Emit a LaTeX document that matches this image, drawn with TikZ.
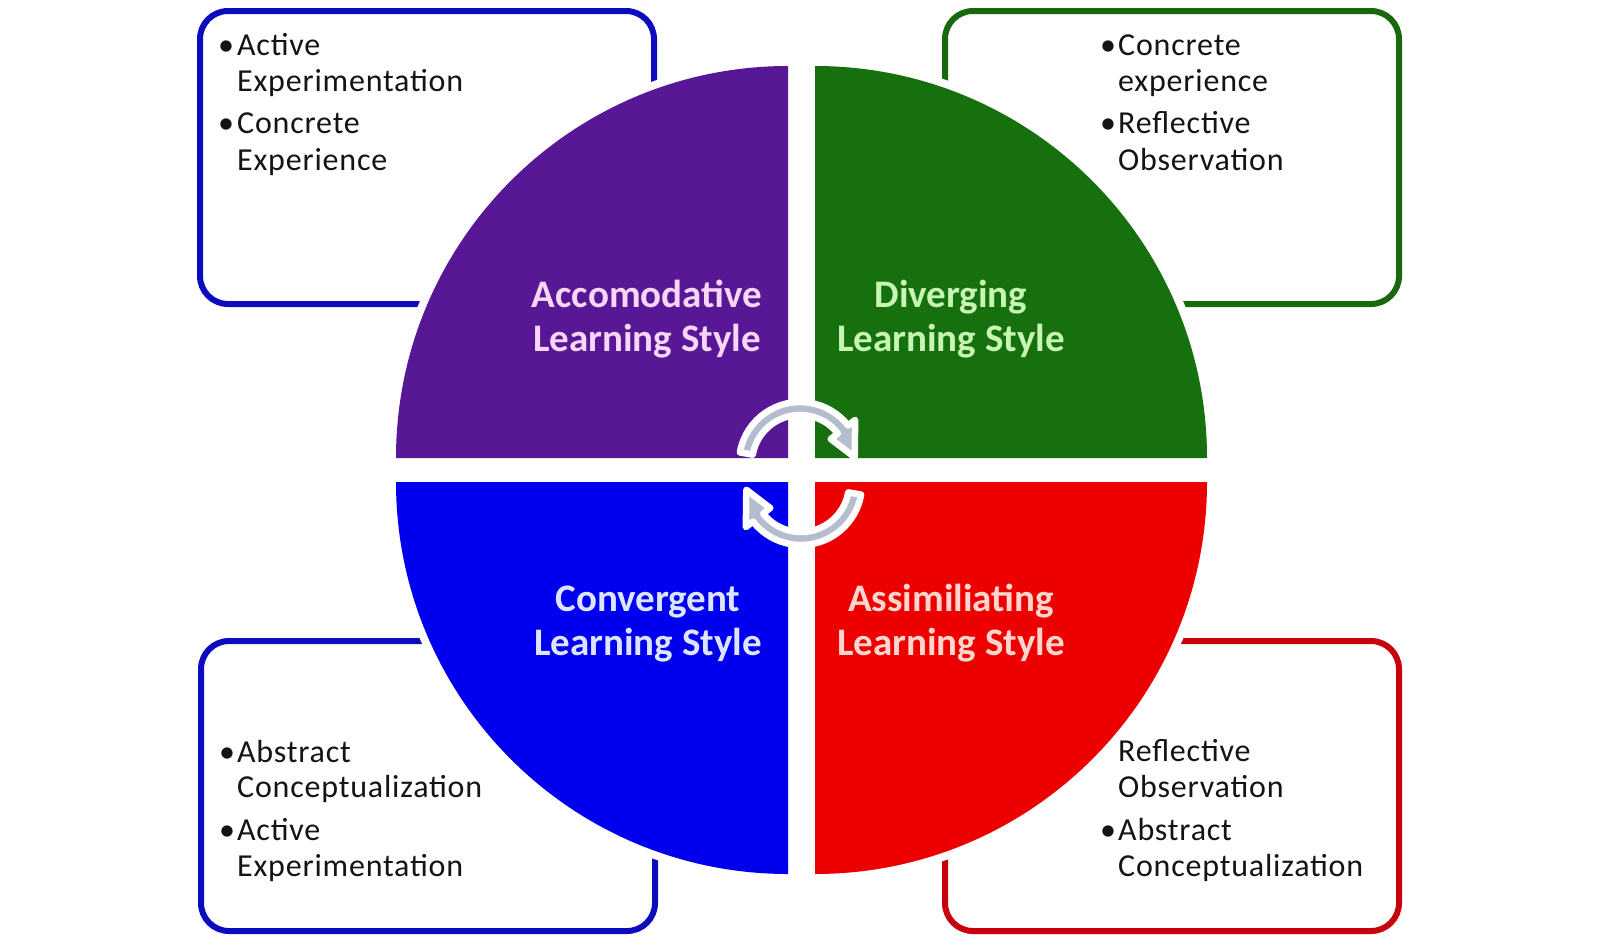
\documentclass[tikz,border=0pt]{standalone}
\usepackage{fontspec}
\setmainfont{Carlito}
\definecolor{cPurple}{RGB}{88,24,150}
\definecolor{cGreen}{RGB}{22,112,14}
\definecolor{cBlue}{RGB}{0,0,238}
\definecolor{cRed}{RGB}{236,0,0}
\definecolor{bBlue}{RGB}{12,12,190}
\definecolor{bGreen}{RGB}{24,104,14}
\definecolor{bRed}{RGB}{200,0,12}
\definecolor{tPurple}{RGB}{248,214,248}
\definecolor{tGreen}{RGB}{200,245,180}
\definecolor{tBlue}{RGB}{220,228,255}
\definecolor{tRed}{RGB}{255,214,206}
\definecolor{arrowgrey}{RGB}{180,188,206}
\definecolor{txt}{RGB}{20,20,20}
\begin{document}
\begin{tikzpicture}[x=1pt,y=-1pt,
  box/.style={line width=6pt, rounded corners=28pt},
  item/.style={anchor=base west, inner sep=0pt, font=\fontsize{32}{36}\selectfont\addfontfeature{LetterSpace=2.5}, text=txt},
  bul/.style={anchor=base, inner sep=0pt, font=\fontsize{32}{36}\selectfont, text=txt},
  title/.style={anchor=base, inner sep=0pt, font=\fontsize{39}{44}\bfseries\selectfont},
  arrowshape/.style={fill=arrowgrey, draw=white, line width=6.5pt, line join=round}]
\useasboundingbox (0,0) rectangle (1600,946);
\fill[white] (0,0) rectangle (1600,946);

% boxes
\draw[box, draw=bBlue]  (200,11)  rectangle (654,304);
\draw[box, draw=bGreen] (945,11)  rectangle (1399,304);
\draw[box, draw=bBlue]  (201,641) rectangle (655,931);
\draw[box, draw=bRed]   (945,641) rectangle (1399,931);

% white halos
\fill[white] (788,458) -- ++(180:400) arc[start angle=180,end angle=270,radius=400] -- cycle;
\fill[white] (815,458) -- ++(270:400) arc[start angle=270,end angle=360,radius=400] -- cycle;
\fill[white] (815,482) -- ++(0:400) arc[start angle=0,end angle=90,radius=400] -- cycle;
\fill[white] (788,482) -- ++(90:400) arc[start angle=90,end angle=180,radius=400] -- cycle;

% quarters
\fill[cPurple] (788,458) -- ++(180:392) arc[start angle=180,end angle=270,radius=392] -- cycle;
\fill[cGreen]  (815,458) -- ++(270:392) arc[start angle=270,end angle=360,radius=392] -- cycle;
\fill[cRed]    (815,482) -- ++(0:392) arc[start angle=0,end angle=90,radius=392] -- cycle;
\fill[cBlue]   (788,482) -- ++(90:392) arc[start angle=90,end angle=180,radius=392] -- cycle;

% titles
\node[title, text=tPurple] (acc1) at (647,307) {Accomodative};
\node[title, text=tPurple] (acc2) at (647,351) {Learning Style};
\node[title, text=tGreen]  (div1) at (951,307) {Diverging};
\node[title, text=tGreen]  (div2) at (951,351) {Learning Style};
\node[title, text=tBlue]   (con1) at (648,611) {Convergent};
\node[title, text=tBlue]   (con2) at (648,655) {Learning Style};
\node[title, text=tRed]    (ass1) at (951,611) {Assimiliating};
\node[title, text=tRed]    (ass2) at (951,655) {Learning Style};

% circular arrows
\begin{scope}[shift={(800,463)}]
\filldraw[arrowshape] (190:61) arc[start angle=190,end angle=322,radius=61]
  -- (322:70) -- (354:55) -- (322:39) -- (322:48)
  arc[start angle=322,end angle=190,radius=48] -- cycle;
\end{scope}
\begin{scope}[shift={(801,484)}]
\filldraw[arrowshape] (10:61) arc[start angle=10,end angle=142,radius=61]
  -- (142:70) -- (174:55) -- (142:39) -- (142:48)
  arc[start angle=142,end angle=10,radius=48] -- cycle;
\end{scope}

% top-left box text
\node[bul]  (tlb1) at (226,55) {•};
\node[item] (tl1) at (237,55) {Active};
\node[item] (tl2) at (237,91) {Experimentation};
\node[bul]  (tlb2) at (226,133) {•};
\node[item] (tl3) at (237,133) {Concrete};
\node[item] (tl4) at (237,170) {Experience};

% top-right box text
\node[bul]  (trb1) at (1108,55) {•};
\node[item] (tr1) at (1118,55) {Concrete};
\node[item] (tr2) at (1118,91) {experience};
\node[bul]  (trb2) at (1108,133) {•};
\node[item] (tr3) at (1118,133) {Reflective};
\node[item] (tr4) at (1118,170) {Observation};

% bottom-left box text
\node[bul]  (blb1) at (227,762) {•};
\node[item] (bl1) at (237,762) {Abstract};
\node[item] (bl2) at (237,797) {Conceptualization};
\node[bul]  (blb2) at (227,840) {•};
\node[item] (bl3) at (237,840) {Active};
\node[item] (bl4) at (237,876) {Experimentation};

% bottom-right box text
\node[item] (br1) at (1118,761) {Reflective};
\node[item] (br2) at (1118,797) {Observation};
\node[bul]  (brb2) at (1108,840) {•};
\node[item] (br3) at (1118,840) {Abstract};
\node[item] (br4) at (1118,876) {Conceptualization};
\end{tikzpicture}
\end{document}
